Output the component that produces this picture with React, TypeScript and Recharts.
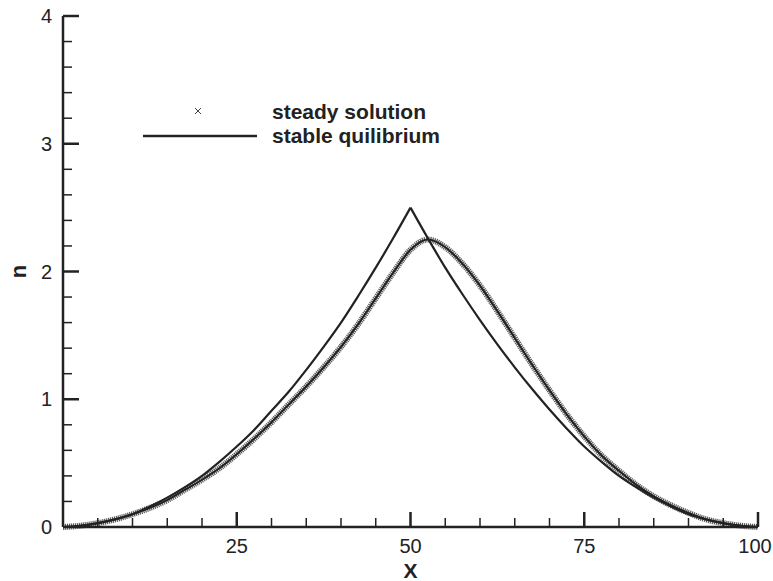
import React from 'react';
import { LineChart, Line, XAxis, YAxis, Label } from 'recharts';

const xValues = [
  0, 2.5, 5, 7.5, 10, 12.5, 15, 17.5, 20, 22.5, 25, 27.5, 30, 32.5, 35, 37.5, 40, 42.5, 45, 47.5,
  50, 52.5, 55, 57.5, 60, 62.5, 65, 67.5, 70, 72.5, 75, 77.5, 80, 82.5, 85, 87.5, 90, 92.5, 95, 97.5, 100,
];

const stableQuilibrium = [
  0, 0.01, 0.03, 0.06, 0.1, 0.16, 0.23, 0.31, 0.4, 0.51, 0.63, 0.76, 0.91, 1.06, 1.23, 1.41, 1.6, 1.81, 2.03, 2.26,
  2.5, 2.26, 2.03, 1.82, 1.62, 1.43, 1.25, 1.08, 0.92, 0.77, 0.63, 0.51, 0.4, 0.31, 0.23, 0.16, 0.1, 0.06, 0.03, 0.01, 0,
];

const steadySolution = [
  0, 0.01, 0.03, 0.06, 0.1, 0.15, 0.21, 0.29, 0.37, 0.46, 0.57, 0.69, 0.82, 0.96, 1.1, 1.25, 1.41, 1.59, 1.79, 1.99,
  2.17, 2.25, 2.19, 2.06, 1.89, 1.69, 1.48, 1.27, 1.07, 0.88, 0.71, 0.56, 0.44, 0.33, 0.24, 0.17, 0.11, 0.06, 0.03, 0.01, 0,
];

const xTicks = [0, 5, 10, 15, 20, 25, 30, 35, 40, 45, 50, 55, 60, 65, 70, 75, 80, 85, 90, 95, 100];
const xTickLabels = [25, 50, 75, 100];
const yTicks = [0, 0.2, 0.4, 0.6, 0.8, 1, 1.2, 1.4, 1.6, 1.8, 2, 2.2, 2.4, 2.6, 2.8, 3, 3.2, 3.4, 3.6, 3.8, 4];
const yTickLabels = [0, 1, 2, 3, 4];

const PEAK_X = 50;

// the equilibrium curve has a cusp, so each side is drawn as its own smooth line
const data = xValues.map((x, i) => ({
  x,
  stableLeft: x <= PEAK_X ? stableQuilibrium[i] : null,
  stableRight: x >= PEAK_X ? stableQuilibrium[i] : null,
  steady: steadySolution[i],
}));

const INK = '#222';
const FONT = '"Liberation Sans", Arial, Helvetica, sans-serif';

const XTick = (props: any) => {
  const { x, y, payload } = props;
  const v = payload.value;
  const major = v % 25 === 0;
  return (
    <g>
      {v !== 0 && (
        <line x1={x} x2={x} y1={y} y2={y - (major ? 15 : 9)} stroke={INK} strokeWidth={major ? 2.5 : 1.5} />
      )}
      {xTickLabels.includes(v) && (
        <text x={v === 100 ? x - 3 : x} y={y + 19} textAnchor="middle" dominantBaseline="central" fontSize={20} fontFamily={FONT} fill={INK}>
          {v}
        </text>
      )}
    </g>
  );
};

const YTick = (props: any) => {
  const { x, y, payload } = props;
  const v = payload.value;
  const major = Math.abs(v - Math.round(v)) < 1e-6;
  return (
    <g>
      {v !== 0 && (
        <line x1={x} x2={x + (major ? 16 : 9)} y1={y} y2={y} stroke={INK} strokeWidth={major ? 2.5 : 1.5} />
      )}
      {major && yTickLabels.includes(Math.round(v)) && (
        <text x={x - 11} y={y} textAnchor="end" dominantBaseline="central" fontSize={20} fontFamily={FONT} fill={INK}>
          {Math.round(v)}
        </text>
      )}
    </g>
  );
};

const LegendBox = () => (
  <svg width={340} height={50} style={{ display: 'block' }}>
    <g stroke="#444" strokeWidth={1}>
      <line x1={55} y1={8} x2={61} y2={14} />
      <line x1={61} y1={8} x2={55} y2={14} />
    </g>
    <line x1={3} y1={36} x2={117} y2={36} stroke={INK} strokeWidth={2.5} />
    <text x={132} y={11} dominantBaseline="central" fontSize={21} fontWeight="bold" fontFamily={FONT} fill={INK}>
      steady solution
    </text>
    <text x={132} y={35} dominantBaseline="central" fontSize={21} fontWeight="bold" fontFamily={FONT} fill={INK}>
      stable quilibrium
    </text>
  </svg>
);

export default function App() {
  return (
    <div style={{ position: 'fixed', left: 0, top: 0, width: 773, height: 581, background: '#fff' }}>
      <LineChart width={773} height={581} data={data} margin={{ top: 16, right: 15, bottom: 0, left: 0 }}>
        <XAxis
          dataKey="x"
          type="number"
          domain={[0, 100]}
          ticks={xTicks}
          interval={0}
          tickSize={0}
          tickMargin={0}
          tickLine={false}
          tick={<XTick />}
          height={54}
          axisLine={{ stroke: INK, strokeWidth: 2.5 }}
        >
          <Label
            content={(p: any) => {
              const vb = p.viewBox;
              return (
                <text x={vb.x + vb.width / 2} y={vb.y + 43} textAnchor="middle" dominantBaseline="central" fontSize={21} fontWeight="bold" fontFamily={FONT} fill={INK}>
                  X
                </text>
              );
            }}
          />
        </XAxis>
        <YAxis
          type="number"
          domain={[0, 4]}
          ticks={yTicks}
          interval={0}
          tickSize={0}
          tickMargin={0}
          tickLine={false}
          tick={<YTick />}
          width={63}
          axisLine={{ stroke: INK, strokeWidth: 2.5 }}
        >
          <Label
            content={(p: any) => {
              const vb = p.viewBox;
              const cx = 18;
              const cy = vb.y + vb.height / 2;
              return (
                <text x={cx} y={cy} transform={`rotate(-90 ${cx} ${cy})`} textAnchor="middle" dominantBaseline="central" fontSize={22} fontWeight="bold" fontFamily={FONT} fill={INK}>
                  n
                </text>
              );
            }}
          />
        </YAxis>
        <Line
          dataKey="steady"
          name="steady solution"
          type="monotone"
          stroke="#5a5a5a"
          strokeWidth={6}
          strokeDasharray="1.2 0.8"
          dot={false}
          isAnimationActive={false}
        />
        <Line
          dataKey="steady"
          name="steady solution core"
          type="monotone"
          stroke="#222"
          strokeWidth={2}
          dot={false}
          isAnimationActive={false}
        />
        <Line
          dataKey="stableLeft"
          name="stable quilibrium"
          type="monotone"
          stroke={INK}
          strokeWidth={2.2}
          dot={false}
          connectNulls={false}
          isAnimationActive={false}
        />
        <Line
          dataKey="stableRight"
          name="stable quilibrium right"
          type="monotone"
          stroke={INK}
          strokeWidth={2.2}
          dot={false}
          connectNulls={false}
          isAnimationActive={false}
        />
      </LineChart>
      <div style={{ position: 'absolute', left: 140, top: 100 }}>
        <LegendBox />
      </div>
    </div>
  );
}
